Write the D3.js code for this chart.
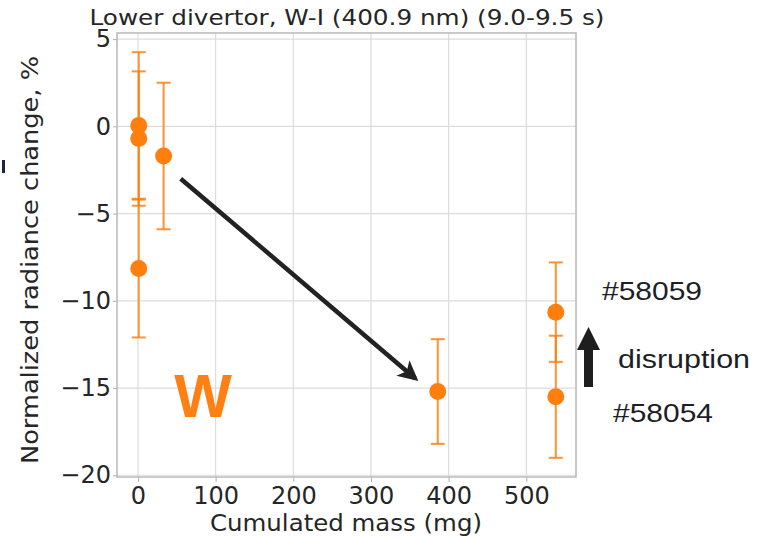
<!DOCTYPE html>
<html>
<head>
<meta charset="utf-8">
<script src="https://cdn.jsdelivr.net/npm/d3@7"></script>
<style>
  body { margin: 0; background: #fff; }
  svg { display: block; }
</style>
</head>
<body>
<div id="chart"></div>
<script>
// data
var mass  = [1, 1, 1, 33, 386, 538, 538];          // mg
var value = [0.05, -0.7, -8.15, -1.7, -15.2, -10.65, -15.5];   // %
var err   = [4.2, 3.85, 3.95, 4.2, 3.0, 2.85, 3.5];

var xTicks = [0, 100, 200, 300, 400, 500];
var yTicks = [5, 0, -5, -10, -15, -20];

var titleText = "Lower divertor, W-I (400.9 nm) (9.0-9.5 s)";
var xLabel = "Cumulated mass (mg)";
var yLabel = "Normalized radiance change, %";

// trend arrow (data coords) and side notes
var trendFrom = [55, -3.0];
var trendTo = [357, -14.45];
var noteTexts = ["#58059", "disruption", "#58054"];

var W = 776, H = 540;
var m = {left: 117, right: 200, top: 33, bottom: 63};

var svg = d3.select("#chart").append("svg")
  .attr("width", W).attr("height", H);

var x = d3.scaleLinear().domain([-27, 564]).range([m.left, W - m.right]);
var y = d3.scaleLinear().domain([-20.1, 5.35]).range([H - m.bottom, m.top]);

var font = "'DejaVu Sans', sans-serif";
var orange = "#ff7f0e";

// grid
svg.append("g").selectAll("line").data(xTicks).join("line")
  .attr("x1", d => x(d)).attr("x2", d => x(d))
  .attr("y1", m.top).attr("y2", H - m.bottom)
  .attr("stroke", "#dcdcdc").attr("stroke-width", 1.2);
svg.append("g").selectAll("line").data(yTicks).join("line")
  .attr("y1", d => y(d)).attr("y2", d => y(d))
  .attr("x1", m.left).attr("x2", W - m.right)
  .attr("stroke", "#dcdcdc").attr("stroke-width", 1.2);

// axes
var xAxis = svg.append("g")
  .attr("transform", "translate(0," + (H - m.bottom) + ")")
  .call(d3.axisBottom(x).tickValues(xTicks).tickSize(5).tickPadding(5));
var yAxis = svg.append("g")
  .attr("transform", "translate(" + m.left + ",0)")
  .call(d3.axisLeft(y).tickValues(yTicks).tickSize(4).tickPadding(2)
    .tickFormat(d => d < 0 ? "\u2212" + Math.abs(d) : d));
[xAxis, yAxis].forEach(function(a) {
  a.select(".domain").remove();
  a.selectAll(".tick line").attr("stroke", "#b0b0b0");
  a.selectAll(".tick text").attr("fill", "#262626")
    .style("font-family", font).style("font-size", "24px");
});

// frame
svg.append("rect")
  .attr("x", m.left).attr("y", m.top)
  .attr("width", W - m.right - m.left).attr("height", H - m.bottom - m.top)
  .attr("fill", "none").attr("stroke", "#b8b8b8").attr("stroke-width", 1.5);

// error bars
var pts = mass.map(function(d, i) { return {x: d, y: value[i], e: err[i]}; });
var eb = svg.append("g").attr("stroke", orange).attr("stroke-opacity", 0.85)
  .attr("stroke-width", 2);
eb.selectAll(".v").data(pts).join("line")
  .attr("x1", d => x(d.x)).attr("x2", d => x(d.x))
  .attr("y1", d => y(d.y + d.e)).attr("y2", d => y(d.y - d.e));
eb.selectAll(".ct").data(pts).join("line")
  .attr("x1", d => x(d.x) - 7).attr("x2", d => x(d.x) + 7)
  .attr("y1", d => y(d.y + d.e)).attr("y2", d => y(d.y + d.e));
eb.selectAll(".cb").data(pts).join("line")
  .attr("x1", d => x(d.x) - 7).attr("x2", d => x(d.x) + 7)
  .attr("y1", d => y(d.y - d.e)).attr("y2", d => y(d.y - d.e));

svg.append("g").selectAll("circle").data(pts).join("circle")
  .attr("cx", d => x(d.x)).attr("cy", d => y(d.y))
  .attr("r", 8.5).attr("fill", orange);

// title and labels
svg.append("text").attr("x", 347).attr("y", 25)
  .attr("text-anchor", "middle").attr("fill", "#262626")
  .attr("textLength", 515).attr("lengthAdjust", "spacingAndGlyphs")
  .style("font-family", font).style("font-size", "22px").text(titleText);
svg.append("text").attr("x", 346).attr("y", 531)
  .attr("text-anchor", "middle").attr("fill", "#262626")
  .attr("textLength", 272).attr("lengthAdjust", "spacingAndGlyphs")
  .style("font-family", font).style("font-size", "23px").text(xLabel);
svg.append("text")
  .attr("transform", "translate(38,260) rotate(-90)")
  .attr("text-anchor", "middle").attr("fill", "#262626")
  .attr("textLength", 408).attr("lengthAdjust", "spacingAndGlyphs")
  .style("font-family", font).style("font-size", "22.5px").text(yLabel);

// trend arrow
var defs = svg.append("defs");
defs.append("marker").attr("id", "head")
  .attr("viewBox", "0 0 10 10").attr("refX", 8).attr("refY", 5)
  .attr("markerWidth", 5).attr("markerHeight", 4.5).attr("orient", "auto")
  .attr("markerUnits", "strokeWidth")
  .append("path").attr("d", "M0,0 L10,5 L0,10 L2.5,5 Z").attr("fill", "#222");
svg.append("line")
  .attr("x1", x(trendFrom[0])).attr("y1", y(trendFrom[1]))
  .attr("x2", x(trendTo[0])).attr("y2", y(trendTo[1]))
  .attr("stroke", "#222").attr("stroke-width", 4.5)
  .attr("marker-end", "url(#head)");

// big W
svg.append("text").attr("x", 203).attr("y", 417)
  .attr("text-anchor", "middle").attr("fill", "#ff8012")
  .style("font-family", "'Liberation Sans', Arial, sans-serif")
  .style("font-weight", "bold").style("font-size", "61px").text("W");

// disruption notes
var noteFont = "'Liberation Sans', Arial, sans-serif";
var notes = [
  {t: noteTexts[0], x: 602, y: 300, w: 100},
  {t: noteTexts[1], x: 618, y: 368, w: 132},
  {t: noteTexts[2], x: 613, y: 422, w: 100}
];
svg.append("g").selectAll("text").data(notes).join("text")
  .attr("x", d => d.x).attr("y", d => d.y).attr("fill", "#1e1e28")
  .attr("textLength", d => d.w).attr("lengthAdjust", "spacingAndGlyphs")
  .style("font-family", noteFont).style("font-size", "25.5px").text(d => d.t);

// up arrow
svg.append("path")
  .attr("d", "M584,387 L584,350 L577,350 L588.5,327 L600,350 L593,350 L593,387 Z")
  .attr("fill", "#1e1e1e");

// slide artifact at left edge
svg.append("rect").attr("x", 2).attr("y", 160).attr("width", 3).attr("height", 13)
  .attr("fill", "#1c2440");
</script>
</body>
</html>
